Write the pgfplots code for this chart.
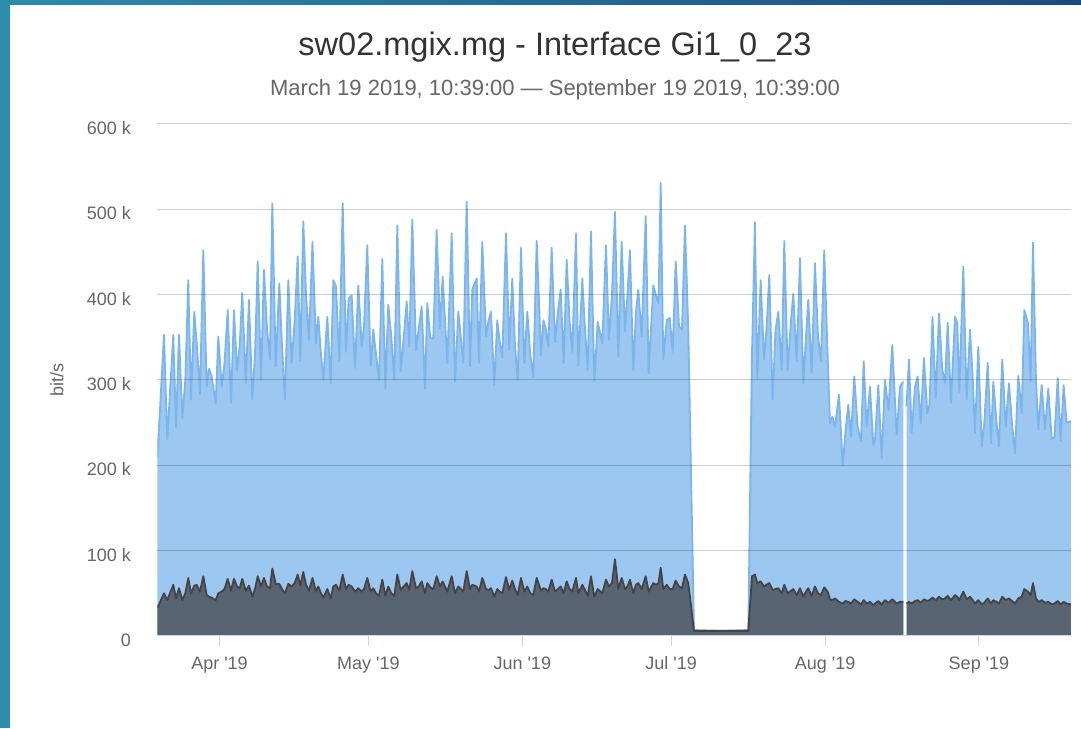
\documentclass[border=0pt]{standalone}
\usepackage{pgfplots}
\pgfplotsset{compat=1.18}
\usepackage{pgfplotstable}
\usepackage{fontspec}
\setmainfont{Liberation Sans}
\definecolor{inblue}{RGB}{124,181,236}
\definecolor{outdark}{RGB}{67,67,72}
\definecolor{txtgray}{RGB}{102,102,102}
\definecolor{ttl}{RGB}{51,51,51}
\definecolor{axline}{RGB}{204,214,235}
\definecolor{frameA}{RGB}{44,140,172}
\definecolor{frameB}{RGB}{28,74,128}

% days since Apr 1 2019 (00:00); values in kbit/s
\pgfplotstableread{
d in out
-12.5 210 33
-11.18 353 50
-10.52 230 42
-9.31 353 60
-8.76 245 44
-8.16 353 56
-7.49 255 42
-6.89 300 50
-6.29 417 68
-5.74 277 50
-5.08 380 59
-4.59 343 60
-3.93 284 52
-3.26 452 70
-2.58 292 48
-2.12 313 46
-1.61 305 45
-0.77 273 42
-0.24 351 50
0.44 292 52
1.01 320 55
1.65 382 67
2.32 273 53
2.92 382 67
3.53 311 58
4.07 340 56
4.59 402 67
5.28 296 53
5.94 394 59
6.61 277 46
7.15 330 55
7.70 439 70
8.36 300 58
8.96 429 68
9.57 360 58
10.17 324 56
10.64 507 79
11.32 316 61
12.05 413 61
12.59 340 55
13.19 277 50
13.86 417 61
14.54 320 58
15.15 370 62
15.75 445 72
16.28 322 59
16.88 486 75
17.43 400 60
18.03 347 53
18.73 462 68
19.44 343 52
19.90 374 58
20.45 330 50
20.91 300 45
21.72 374 55
22.40 296 44
22.93 417 58
23.47 410 60
24.13 322 53
24.82 507 72
25.48 333 55
26.03 396 60
26.63 399 58
27.30 314 52
27.96 411 56
28.65 339 52
29.11 363 55
29.77 458 68
30.46 316 52
30.98 359 56
31.53 330 50
32.13 300 47
32.80 442 66
33.40 290 47
34.00 388 58
34.61 351 50
35.21 300 47
35.82 481 72
36.50 310 54
37.11 350 58
37.71 392 62
38.24 339 54
38.84 488 76
39.59 335 56
40.13 360 58
40.73 386 64
41.40 290 50
41.86 390 62
42.47 349 57
43.07 349 55
43.75 476 70
44.42 360 58
44.96 421 64
45.89 320 52
46.78 472 70
47.44 298 50
48.11 380 58
49.11 320 52
49.80 509 76
50.46 316 55
50.93 406 60
51.81 419 58
52.28 320 52
52.94 462 68
53.69 351 55
54.23 370 54
54.69 380 56
55.36 294 46
55.96 370 55
56.45 345 52
56.97 326 50
57.72 472 69
58.38 335 54
58.98 419 65
59.53 340 55
60.07 300 48
60.74 455 68
61.40 320 52
62.01 380 58
62.61 330 50
63.22 304 48
63.90 463 68
64.77 329 53
65.27 370 56
65.71 361 55
66.24 339 52
66.92 455 66
67.59 344 52
68.19 380 55
68.73 406 58
69.34 320 50
69.94 441 64
70.51 370 55
71.07 333 52
71.82 472 68
72.28 316 50
73.09 419 60
73.63 360 54
74.17 312 47
74.84 474 70
75.50 298 46
76.19 368 55
77.11 343 50
77.86 458 66
78.46 347 58
79.07 400 62
79.67 497 90
80.34 327 55
81.02 462 68
81.69 357 55
82.19 400 58
82.69 452 66
83.36 312 50
83.90 380 60
84.37 406 62
85.05 351 55
85.86 492 70
86.46 308 52
86.93 360 57
87.39 411 62
87.93 399 60
88.44 390 62
88.88 531 80
89.40 324 55
90.09 370 60
90.69 373 55
91.30 333 55
91.90 439 65
92.57 363 58
93.17 359 56
93.77 481 72
94.44 360 62
95.59 7 6
100.83 6 6
106.53 7 6
107.27 330 70
107.87 485 72
108.34 300 62
109.02 417 64
109.69 324 58
110.19 359 60
110.76 423 62
111.44 277 54
112.01 359 55
112.57 380 56
113.26 312 50
113.78 463 60
114.46 312 50
115.13 370 53
115.59 401 55
116.28 322 48
116.94 443 56
117.61 296 46
118.15 350 52
118.61 394 56
119.30 308 47
119.96 437 58
120.57 351 50
121.17 322 48
121.83 452 57
122.52 327 52
122.99 249 43
123.45 257 42
123.99 245 44
124.80 283 40
125.55 200 38
126.11 240 41
126.67 271 40
127.22 234 38
127.88 304 43
128.56 245 40
129.23 228 37
129.77 322 42
130.38 245 38
131.04 292 40
131.71 224 36
132.05 230 38
132.72 294 41
133.40 208 37
134.06 300 42
134.77 265 39
135.53 341 43
136.42 236 38
137.09 292 40
137.75 298 40
}\partA

\pgfplotstableread{
d in out
138.40 269 38
138.90 324 40
139.44 238 38
140.11 292 41
140.65 304 42
141.26 249 39
141.92 326 43
142.59 261 41
143.03 271 42
143.64 374 45
144.28 278 42
144.95 378 46
145.61 312 43
146.15 296 44
146.70 367 47
147.36 273 42
148.17 374 48
148.63 367 46
149.03 286 42
149.84 433 52
150.52 277 43
151.19 359 46
151.73 304 42
152.20 238 38
152.86 339 42
153.55 222 37
154.07 249 39
154.76 320 44
155.42 226 38
155.88 298 42
156.56 249 40
157.03 222 38
157.69 324 46
158.38 245 42
159.04 296 44
159.65 249 41
160.25 214 38
160.92 305 44
161.60 261 46
162.13 382 55
162.87 367 52
163.42 298 48
163.88 461 62
164.48 300 44
164.95 242 40
165.63 294 42
166.30 242 39
166.96 290 40
167.65 231 37
168.21 233 38
168.86 302 41
169.46 229 37
170.06 294 40
170.66 250 38
171.5 252 37
}\partB

\begin{document}
\begin{tikzpicture}[x=1pt,y=1pt]
\path[use as bounding box] (0,0) rectangle (1081,728);
\fill[white] (0,0) rectangle (1081,728);
\shade[left color=frameA, right color=frameB] (0,723) rectangle (1081,728);
\fill[frameA] (0,0) rectangle (10,728);

\node[text=ttl, font=\fontsize{32.5}{38}\selectfont] at (555,681) {sw02.mgix.mg - Interface Gi1\_0\_23};
\node[text=txtgray, font=\fontsize{22}{26}\selectfont] at (555,638) {March 19 2019, 10:39:00 — September 19 2019, 10:39:00};
\node[rotate=90, text=txtgray, font=\fontsize{18}{21}\selectfont] at (57,348) {bit/s};

\begin{axis}[
  at={(157.45pt,92pt)}, anchor=south west,
  scale only axis, width=913.35pt, height=512pt,
  xmin=-12.5, xmax=171.5, ymin=0, ymax=600,
  axis on top,
  axis x line*=bottom, axis y line*=left,
  x axis line style={axline, line width=1pt, -},
  y axis line style={draw=none},
  xtick={0,30,61,91,122,153},
  xticklabels={Apr \textquotesingle 19, May \textquotesingle 19, Jun \textquotesingle 19, Jul \textquotesingle 19, Aug \textquotesingle 19, Sep \textquotesingle 19},
  ytick={0,100,200,300,400,500,600},
  yticklabels={0,100 k,200 k,300 k,400 k,500 k,600 k},
  tick align=outside,
  xtick style={axline, line width=1pt},
  ytick style={draw=none},
  major tick length=10pt,
  ymajorgrids,
  major grid style={black, opacity=0.2, line width=1pt},
  ticklabel style={font=\fontsize{18}{21}\selectfont, text=txtgray},
  yticklabel style={anchor=east, xshift=-13pt, yshift=-4pt},
  xticklabel style={anchor=north, yshift=-7pt},
  line join=round,
]
\addplot[fill=inblue, fill opacity=0.75, draw=none] table[x=d,y=in]{\partA} \closedcycle;
\addplot[fill=inblue, fill opacity=0.75, draw=none] table[x=d,y=in]{\partB} \closedcycle;
\addplot[draw=inblue, line width=1.8pt] table[x=d,y=in]{\partA};
\addplot[draw=inblue, line width=1.8pt] table[x=d,y=in]{\partB};
\addplot[fill=outdark, fill opacity=0.75, draw=none] table[x=d,y=out]{\partA} \closedcycle;
\addplot[fill=outdark, fill opacity=0.75, draw=none] table[x=d,y=out]{\partB} \closedcycle;
\addplot[draw=outdark, line width=1.8pt] table[x=d,y=out]{\partA};
\addplot[draw=outdark, line width=1.8pt] table[x=d,y=out]{\partB};
\end{axis}
\end{tikzpicture}
\end{document}
